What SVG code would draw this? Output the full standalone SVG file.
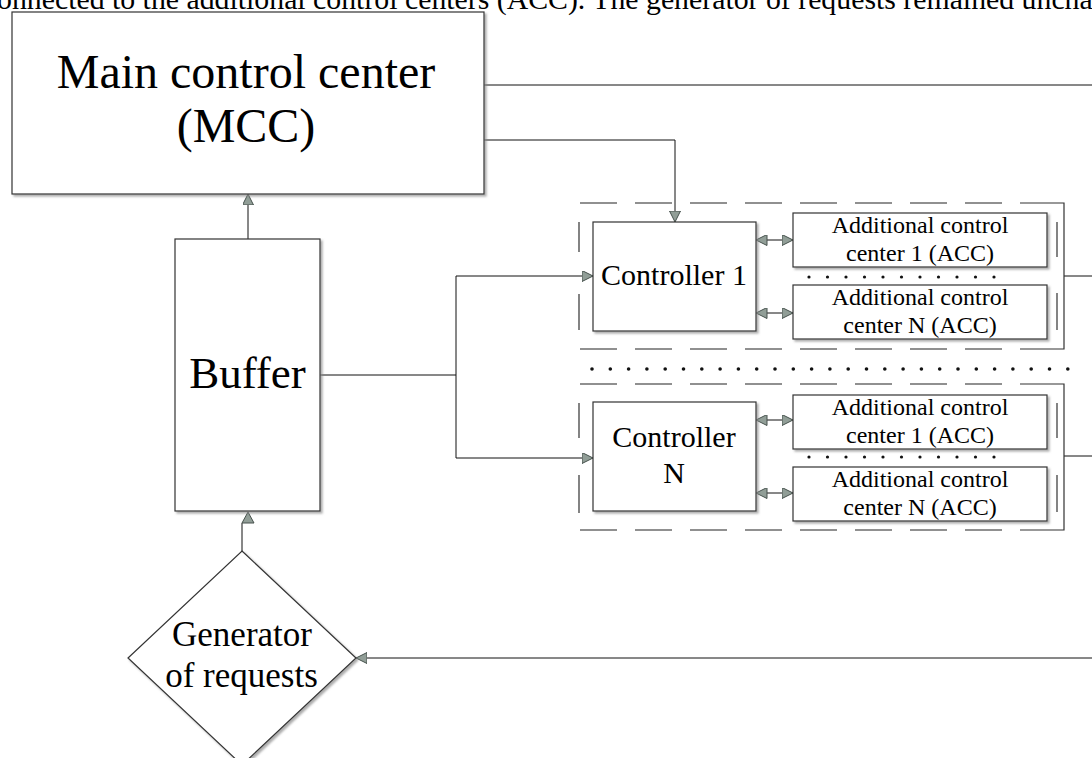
<svg xmlns="http://www.w3.org/2000/svg" width="1092" height="758" viewBox="0 0 1092 758">
<style>
.box{fill:#fff;stroke:#333;stroke-width:1.2;filter:url(#sh)}
.ln{fill:none;stroke:#111;stroke-width:1}
.dash{fill:none;stroke:#222;stroke-width:1.2;stroke-dasharray:37 18}
.br{fill:none;stroke:#333;stroke-width:1.2}
.ah{fill:#919e97;stroke:#46514c;stroke-width:1}
.t{font-family:"Liberation Serif","Times New Roman",serif;fill:#000;text-anchor:middle}
.dot{fill:#111}
</style>
<defs>
<filter id="sh" x="-5%" y="-5%" width="115%" height="115%">
<feDropShadow dx="2" dy="2" stdDeviation="1" flood-color="#888" flood-opacity="0.7"/>
</filter>
<marker id="arr" markerUnits="userSpaceOnUse" markerWidth="14" markerHeight="14" refX="11" refY="5.5" orient="auto">
<path class="ah" d="M0,0 L11,5.5 L0,11 z"/>
</marker>
<marker id="arrs" markerUnits="userSpaceOnUse" markerWidth="14" markerHeight="14" refX="0" refY="5.5" orient="auto">
<path class="ah" d="M11,0 L0,5.5 L11,11 z"/>
</marker>
</defs>
<rect width="1092" height="758" fill="#fff"/>
<text class="t" x="-3" y="9" font-size="29.8" style="text-anchor:start">onnected to the additional control centers (ACC). The generator of requests remained unchanged</text>

<g id="connectors">
<path class="ln" d="M484,85 H1092"/>
<path class="ln" d="M484,140 H675 V222" marker-end="url(#arr)"/>
<path class="ln" d="M248,239 V194" marker-end="url(#arr)"/>
<path class="ln" d="M320,375 H456 V276 H593" marker-end="url(#arr)"/>
<path class="ln" d="M456,375 V458 H593" marker-end="url(#arr)"/>
<path class="ln" d="M242,551 V523"/>
<path class="ah" d="M248,512 L254,523 L242,523 z"/>
<path class="ln" d="M1092,658 H356" marker-end="url(#arr)"/>
<path class="ln" d="M756,240 H793" marker-start="url(#arrs)" marker-end="url(#arr)"/>
<path class="ln" d="M756,313 H793" marker-start="url(#arrs)" marker-end="url(#arr)"/>
<path class="ln" d="M756,420 H793" marker-start="url(#arrs)" marker-end="url(#arr)"/>
<path class="ln" d="M756,493 H793" marker-start="url(#arrs)" marker-end="url(#arr)"/>
<path class="ln" d="M1064,276 H1092"/>
<path class="ln" d="M1064,456 H1092"/>
</g>

<g id="group1">
<path class="dash" d="M580,203 H1020 M580,349 H1020"/>
<path class="br" d="M1020,203 H1064 V349 H1020"/>
<path class="br" d="M579,222 V252 M579,294 V330 M1057,222 V257 M1057,293 V330"/>
</g>
<g id="group2">
<path class="dash" d="M580,384 H1020 M580,530 H1020"/>
<path class="br" d="M1020,384 H1064 V530 H1020"/>
<path class="br" d="M579,403 V438 M579,475 V513 M1057,403 V438 M1057,475 V512"/>
</g>

<g id="mcc">
<rect class="box" x="12" y="12" width="472" height="182"/>
<text class="t" x="246" y="88" font-size="48">Main control center</text>
<text class="t" x="246" y="142" font-size="48">(MCC)</text>
</g>

<g id="buffer">
<rect class="box" x="175" y="239" width="145" height="272"/>
<text class="t" x="247.5" y="388" font-size="45">Buffer</text>
</g>

<g id="generator">
<path class="box" d="M242,551 L356,658 L242,765 L128,658 z"/>
<text class="t" x="242" y="646" font-size="35">Generator</text>
<text class="t" x="241.5" y="687" font-size="35">of requests</text>
</g>

<g id="controller1">
<rect class="box" x="593" y="222" width="163" height="109"/>
<text class="t" x="674" y="285" font-size="30">Controller 1</text>
</g>
<g id="controllerN">
<rect class="box" x="593" y="402" width="163" height="109"/>
<text class="t" x="674" y="447" font-size="30">Controller</text>
<text class="t" x="674" y="483" font-size="30">N</text>
</g>

<g id="acc1-1">
<rect class="box" x="793" y="213" width="254" height="54"/>
<text class="t" x="920" y="233" font-size="24">Additional control</text>
<text class="t" x="920" y="261" font-size="24">center 1 (ACC)</text>
</g>
<g id="acc1-n">
<rect class="box" x="793" y="285" width="254" height="54"/>
<text class="t" x="920" y="305" font-size="24">Additional control</text>
<text class="t" x="920" y="333" font-size="24">center N (ACC)</text>
</g>
<g id="acc2-1">
<rect class="box" x="793" y="395" width="254" height="54"/>
<text class="t" x="920" y="415" font-size="24">Additional control</text>
<text class="t" x="920" y="443" font-size="24">center 1 (ACC)</text>
</g>
<g id="acc2-n">
<rect class="box" x="793" y="467" width="254" height="54"/>
<text class="t" x="920" y="487" font-size="24">Additional control</text>
<text class="t" x="920" y="515" font-size="24">center N (ACC)</text>
</g>

<g id="dots">
<g class="dot">
<circle cx="809" cy="277" r="1.6"/><circle cx="827.5" cy="277" r="1.6"/><circle cx="846" cy="277" r="1.6"/><circle cx="864.5" cy="277" r="1.6"/><circle cx="883" cy="277" r="1.6"/><circle cx="901.5" cy="277" r="1.6"/><circle cx="920" cy="277" r="1.6"/><circle cx="938.5" cy="277" r="1.6"/><circle cx="957" cy="277" r="1.6"/><circle cx="975.5" cy="277" r="1.6"/><circle cx="994" cy="277" r="1.6"/>
<circle cx="809" cy="457" r="1.6"/><circle cx="827.5" cy="457" r="1.6"/><circle cx="846" cy="457" r="1.6"/><circle cx="864.5" cy="457" r="1.6"/><circle cx="883" cy="457" r="1.6"/><circle cx="901.5" cy="457" r="1.6"/><circle cx="920" cy="457" r="1.6"/><circle cx="938.5" cy="457" r="1.6"/><circle cx="957" cy="457" r="1.6"/><circle cx="975.5" cy="457" r="1.6"/><circle cx="994" cy="457" r="1.6"/>
<circle cx="592" cy="369" r="1.8"/><circle cx="610.3" cy="369" r="1.8"/><circle cx="628.6" cy="369" r="1.8"/><circle cx="646.9" cy="369" r="1.8"/><circle cx="665.2" cy="369" r="1.8"/><circle cx="683.5" cy="369" r="1.8"/><circle cx="701.8" cy="369" r="1.8"/><circle cx="720.1" cy="369" r="1.8"/><circle cx="738.4" cy="369" r="1.8"/><circle cx="756.7" cy="369" r="1.8"/><circle cx="775" cy="369" r="1.8"/><circle cx="793.3" cy="369" r="1.8"/><circle cx="811.6" cy="369" r="1.8"/><circle cx="829.9" cy="369" r="1.8"/><circle cx="848.2" cy="369" r="1.8"/><circle cx="866.5" cy="369" r="1.8"/><circle cx="884.8" cy="369" r="1.8"/><circle cx="903.1" cy="369" r="1.8"/><circle cx="921.4" cy="369" r="1.8"/><circle cx="939.7" cy="369" r="1.8"/><circle cx="958" cy="369" r="1.8"/><circle cx="976.3" cy="369" r="1.8"/><circle cx="994.6" cy="369" r="1.8"/><circle cx="1012.9" cy="369" r="1.8"/><circle cx="1031.2" cy="369" r="1.8"/><circle cx="1049.5" cy="369" r="1.8"/><circle cx="1067.8" cy="369" r="1.8"/>
</g>
</g>
</svg>
